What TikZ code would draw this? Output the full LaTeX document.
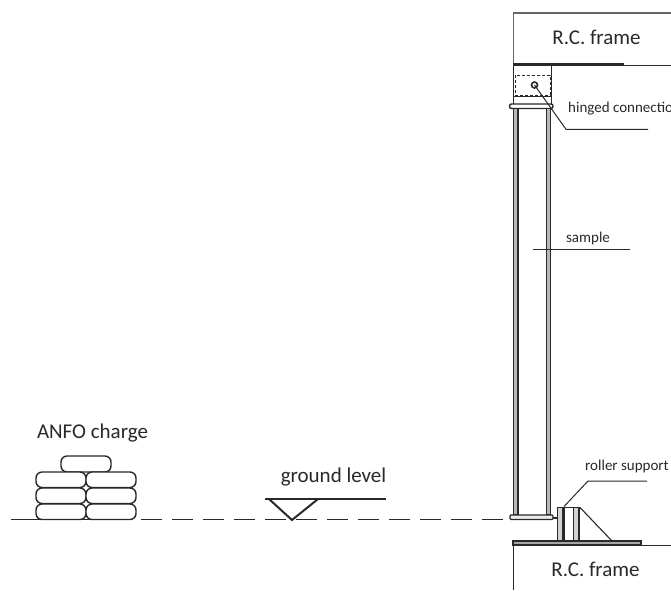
\documentclass[tikz,border=0pt]{standalone}
\usepackage{fontspec}
\setmainfont{Carlito}
\definecolor{ink}{gray}{0.16}
\tikzset{
  x=1pt,y=-1pt,
  every path/.style={color=ink},
  lab/.style={inner sep=0pt,text=ink,anchor=center},
  big/.style={lab,font=\fontsize{21}{24}\selectfont},
  small/.style={lab,font=\fontsize{15}{18}\selectfont},
  thin line/.style={line width=1pt},
  med/.style={line width=1.6pt},
  thick line/.style={line width=2.6pt},
  bag/.style={draw=ink,line width=1.4pt,rounded corners=6pt,fill=white}
}
\begin{document}
\begin{tikzpicture}
\useasboundingbox (0,0) rectangle (671,590);
\fill[white] (0,0) rectangle (671,590);
% top frame
\draw[med,gray!80!black] (671,13) -- (513.5,13) -- (513.5,65);
\draw[thick line] (513,64.5) -- (624,64.5);
\draw[thin line] (624,65.5) -- (671,65.5);
\draw[med] (513.5,65) -- (513.5,104) (551.5,65) -- (551.5,104);
\draw[thin line] (513.5,96) -- (551.5,96);
\draw[thin line,dash pattern=on 3pt off 2pt] (515,75) rectangle (550,95);
\draw[med] (534.5,85) circle (3);
\draw[bag,rounded corners=2pt] (509.5,104) rectangle (553,108.5);
% column
\draw[line width=1.1pt,fill=gray!55] (513.7,108.5) rectangle (518,515);
\draw[line width=1.1pt,fill=gray!55] (546.5,108.5) rectangle (550.8,515);
\draw[bag,rounded corners=1pt,line width=1.1pt,fill=gray!15] (510,515) rectangle (553,519.5);
% hinged leader
\draw[thin line] (534.5,85) -- (566,129.3) -- (648,129.3);
\node[small,anchor=west] (hc) at (568,108.5) {hinged connection};
% sample
\coordinate (s1) at (533,249); \coordinate (s2) at (630,249);
\draw[thin line] (s1) -- (s2);
\node[small] (sm) at (588,238) {sample};
% roller support
\draw[line width=2.4pt] (553,517.7) -- (557,517.7);
\draw[thin line,fill=gray!35] (557,507) rectangle (579.5,541);
\fill[white] (565,507.5) rectangle (573,540.5);
\draw[line width=3pt] (563.5,507) -- (563.5,541);
\draw[line width=1.1pt] (573.5,507) -- (573.5,541);
\draw[line width=1.1pt] (578.7,507) -- (578.7,541);
\draw[line width=1.1pt] (580,507.5) -- (612,541);
\draw[thin line] (564,506.5) -- (588,481) -- (647,481);
\node[small] (rs) at (627,466) {roller support};
% bottom frame
\draw[line width=1.1pt,fill=gray!70] (513,541) rectangle (641,545);
\draw[thin line] (641,545.2) -- (671,545.2);
\draw[med] (513.5,545) -- (513.5,590);
\node[big] (f1) at (596.5,37) {R.C. frame};
\node[big] (f2) at (595.5,569) {R.C. frame};
% ground line
\draw[line width=1.1pt] (11,519.5) -- (100,519.5);
\draw[line width=1.1pt,dash pattern=on 21pt off 10pt] (110,519.5) -- (510,519.5);
% ground level
\draw[line width=2pt] (265,499) -- (386,499);
\draw[line width=2pt] (269,499) -- (292,520) -- (318,499);
\node[big] (gl) at (333.5,477) {ground level};
% ANFO
\node[big] (an) at (92.5,433) {ANFO charge};
\draw[bag] (61,456) rectangle (111,472);
\foreach \y in {504,488,472}{
  \draw[bag] (36,\y) rectangle (86,\y+15.5);
  \draw[bag] (86,\y) rectangle (136,\y+15.5);
}
\end{tikzpicture}
\end{document}
